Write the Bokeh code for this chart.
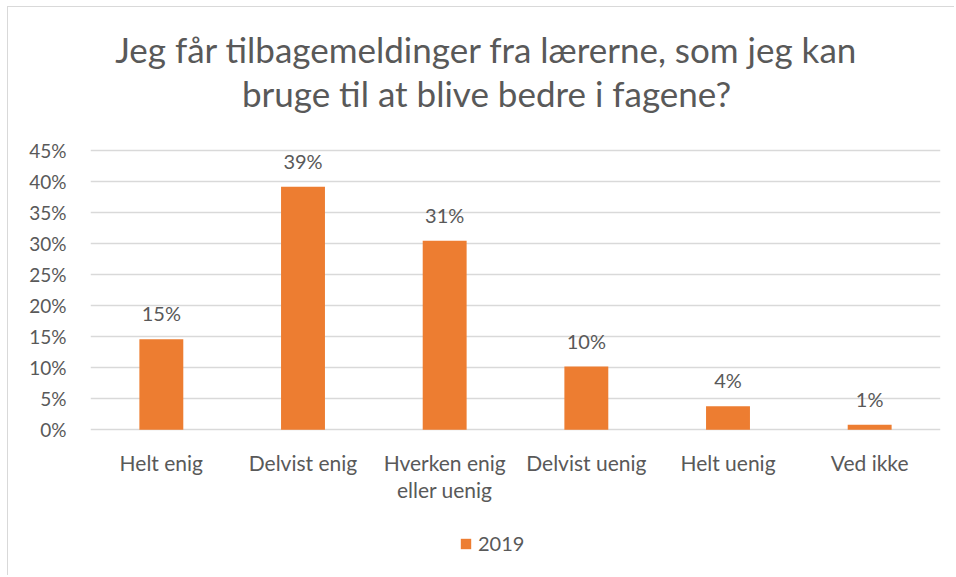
from bokeh.plotting import figure
from bokeh.models import (ColumnDataSource, Range1d, FixedTicker, Label, Legend, LegendItem)
from bokeh.core.properties import value
from bokeh.embed import file_html
from bokeh.resources import INLINE

# ---- data ----
categories = ["Helt enig", "Delvist enig", "Hverken enig eller uenig",
              "Delvist uenig", "Helt uenig", "Ved ikke"]
cat_label_line1 = ["Helt enig", "Delvist enig", "Hverken enig",
                   "Delvist uenig", "Helt uenig", "Ved ikke"]
cat_label_line2 = ["", "", "eller uenig", "", "", ""]
values_2019 = [14.6, 39.2, 30.5, 10.2, 3.8, 0.8]
value_labels = ["15%", "39%", "31%", "10%", "4%", "1%"]
y_ticks = [0, 5, 10, 15, 20, 25, 30, 35, 40, 45]
y_tick_labels = ["0%", "5%", "10%", "15%", "20%", "25%", "30%", "35%", "40%", "45%"]
series_name = "2019"
title_lines = ["Jeg får tilbagemeldinger fra lærerne, som jeg kan",
               "bruge til at blive bedre i fagene?"]

FONT = "Lato"
TXT = "#595959"
GRID = "#D9D9D9"
BAR = "#ED7D31"

# ---- layout constants (page pixels) ----
OFF_X, OFF_Y = 7, 6          # chart-area border position on the page
BORDER = 1
W, H = 947, 569
FRAME_L, FRAME_R = 90, 940
Y45_PX, Y0_PX = 150.3, 429.3
ppu = (Y0_PX - Y45_PX) / 45.0
frame_top_px = OFF_Y + BORDER
frame_bot_px = OFF_Y + BORDER + H
y_end = 45 + (Y45_PX - frame_top_px) / ppu
y_start = -(frame_bot_px - Y0_PX) / ppu
cat_px = (FRAME_R - FRAME_L) / len(categories)

src = ColumnDataSource(dict(cat=categories, val=values_2019, lab=value_labels,
                            l1=cat_label_line1, l2=cat_label_line2,
                            zero=[0] * len(categories)))

p = figure(width=W, height=H, x_range=categories, y_range=Range1d(y_start, y_end),
           output_backend="svg", toolbar_location=None,
           min_border_left=FRAME_L - OFF_X - BORDER,
           min_border_right=OFF_X + BORDER + W - FRAME_R,
           min_border_top=0, min_border_bottom=0)
p.styles = {"border-top": "1px solid #D9D9D9", "border-left": "1px solid #D9D9D9",
            "margin-left": f"{OFF_X}px", "margin-top": f"{OFF_Y}px"}
p.outline_line_color = None
p.background_fill_color = "white"
p.border_fill_color = "white"
p.xaxis.visible = False

bars = p.vbar(x="cat", top="val", width=0.31, source=src, fill_color=BAR, line_color=None)

# value labels
p.text(x="cat", y="val", text="lab", source=src, text_align="center",
       text_baseline="alphabetic", y_offset=-26, text_font=value(FONT),
       text_font_size="20px", text_color=TXT)

# category labels (below the 0 line)
p.text(x="cat", y="zero", text="l1", source=src, text_align="center",
       text_baseline="alphabetic", y_offset=33, text_font=value(FONT),
       text_font_size="21px", text_color=TXT)
p.text(x="cat", y="zero", text="l2", source=src, text_align="center",
       text_baseline="alphabetic", y_offset=60, text_font=value(FONT),
       text_font_size="21px", text_color=TXT)

# y axis
p.yaxis.ticker = FixedTicker(ticks=y_ticks)
p.yaxis.major_label_overrides = {t: l for t, l in zip(y_ticks, y_tick_labels)}
p.yaxis.axis_line_color = None
p.yaxis.major_tick_line_color = None
p.yaxis.minor_tick_line_color = None
p.yaxis.major_tick_out = 0
p.yaxis.major_label_standoff = 24
p.yaxis.major_label_text_font = FONT
p.yaxis.major_label_text_font_size = "19px"
p.yaxis.major_label_text_color = TXT

p.xgrid.grid_line_color = None
p.ygrid.grid_line_color = GRID
p.ygrid.grid_line_width = 1.5

# title
title_cx = (486 - FRAME_L) / cat_px
for line, base_px in zip(title_lines, [48, 92]):
    p.add_layout(Label(x=title_cx, y=(Y0_PX - base_px) / ppu, text=line,
                       text_align="center", text_baseline="alphabetic", text_font=FONT,
                       text_font_size="35px", text_color=TXT))

# legend (frame-relative screen position)
legend = Legend(items=[LegendItem(label=series_name, renderers=[bars])],
                location=(459 - FRAME_L, frame_bot_px - 555), orientation="horizontal",
                glyph_width=13, glyph_height=13, label_height=13, padding=0, margin=0,
                label_standoff=6, border_line_color=None, background_fill_alpha=0,
                label_text_font=FONT, label_text_font_size="20px", label_text_color=TXT)
p.add_layout(legend, "center")

open("out.html", "w").write(file_html(p, INLINE))
